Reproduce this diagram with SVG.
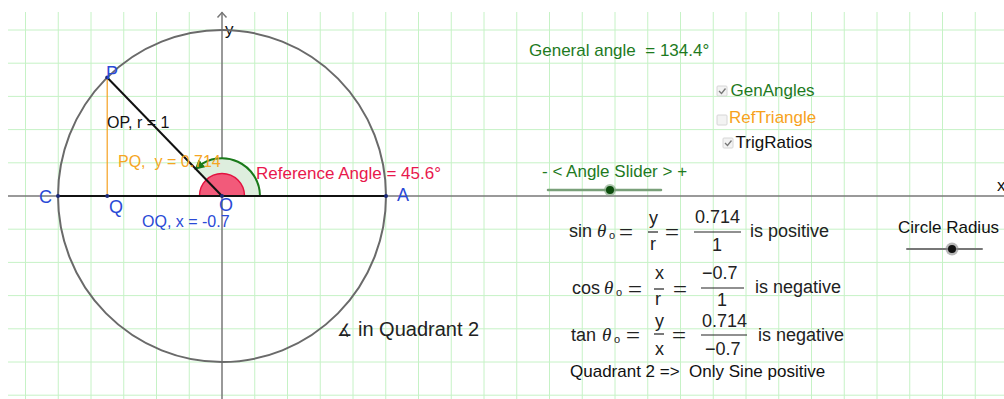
<svg xmlns="http://www.w3.org/2000/svg" width="1004" height="399" viewBox="0 0 1004 399">
<style>
text{font-family:"Liberation Sans",Arial,sans-serif;}
.grid{stroke:#c6f2c6;stroke-width:1;fill:none;}
.axis{stroke:#777;stroke-width:1.5;fill:none;}
.lbl{fill:#2a4ad6;font-size:18px;}
.math{font-size:18px;fill:#222;}
.th{font-family:"Liberation Serif",serif;font-style:italic;font-size:19px;fill:#222;}
.sub{font-size:11px;fill:#222;}
.bar{stroke:#222;stroke-width:1.2;}
.dot{fill:#1c2a7a;}
.cb{fill:#f3f3f3;stroke:#d6d6d6;stroke-width:1;}
.ck{fill:none;stroke:#777;stroke-width:1.3;}
</style>
<defs>
<marker id="garr" viewBox="0 0 10 10" refX="6" refY="5" markerWidth="5" markerHeight="5" orient="auto" markerUnits="strokeWidth">
<path d="M0,0 L10,5 L0,10 Z" fill="#1a7a1a"/>
</marker>
</defs>
<rect width="1004" height="399" fill="#fff"/>
<g id="grid">
<path class="grid" d="M25.5,12V399M58.25,12V399M91,12V399M123.75,12V399M156.5,12V399M189.25,12V399M254.75,12V399M287.5,12V399M320.25,12V399M353,12V399M385.75,12V399M418.5,12V399M451.25,12V399M484,12V399M516.75,12V399M549.5,12V399M582.25,12V399M615,12V399M647.75,12V399M680.5,12V399M713.25,12V399M746,12V399M778.75,12V399M811.5,12V399M844.25,12V399M877,12V399M909.75,12V399M942.5,12V399M975.25,12V399"/>
<path class="grid" d="M8,30H1004M8,63.2H1004M8,96.4H1004M8,129.6H1004M8,162.8H1004M8,229.2H1004M8,262.4H1004M8,295.6H1004M8,328.8H1004M8,362H1004M8,395.2H1004"/>
</g>
<g id="axes">
<path class="axis" d="M8,196H1004"/>
<path class="axis" d="M222,12V399"/>
<path class="axis" d="M217.5,17.5L222,12.5L226.5,17.5"/>
<text x="225" y="35" style="font-size:17px;fill:#111">y</text>
<text x="997" y="191" style="font-size:17px;fill:#111">x</text>
</g>
<g id="circle">
<ellipse cx="222" cy="196" rx="164" ry="166" fill="none" stroke="#6a6a6a" stroke-width="2"/>
</g>
<g id="angles">
<path d="M222,196 L260,196 A38,38 0 0 0 195.4,168.9 Z" fill="#deeede"/>
<path d="M260,196 A38,38 0 0 0 197.5,167.2" fill="none" stroke="#1a7a1a" stroke-width="2" marker-end="url(#garr)"/>
<path d="M199.5,196 A22.5,22.5 0 0 1 244.5,196 Z" fill="#f25a7a" stroke="#e2123f" stroke-width="1.5"/>
</g>
<g id="connectors">
<line x1="58" y1="196" x2="386" y2="196" stroke="#111" stroke-width="2"/>
<line x1="222" y1="196" x2="107.2" y2="77.5" stroke="#111" stroke-width="2"/>
<line x1="107.2" y1="77.5" x2="107.2" y2="196" stroke="#f5a020" stroke-width="1.2"/>
</g>
<g id="points">
<circle class="dot" cx="58" cy="196" r="2"/>
<circle class="dot" cx="107.2" cy="196" r="2"/>
<circle class="dot" cx="222" cy="196" r="2"/>
<circle class="dot" cx="386" cy="196" r="2"/>
<circle class="dot" cx="107.2" cy="77.5" r="2"/>
<text class="lbl" x="106" y="79">P</text>
<text class="lbl" x="39" y="203">C</text>
<text class="lbl" x="109" y="213">Q</text>
<text class="lbl" x="219" y="211">O</text>
<text class="lbl" x="397" y="201">A</text>
</g>
<g id="labels">
<text x="107" y="128" style="font-size:16px;fill:#111">OP, r = 1</text>
<text x="118" y="167" style="font-size:16px;fill:#f5a623;white-space:pre" xml:space="preserve">PQ,  y = 0.714</text>
<text x="142" y="227" style="font-size:16px;fill:#2a4ad6">OQ, x = -0.7</text>
<text x="256" y="179" style="font-size:17px;fill:#e8184c">Reference Angle = 45.6°</text>
<text x="337" y="336" style="font-family:'DejaVu Sans',sans-serif;font-size:17px;fill:#222">∡</text>
<text x="358" y="336" style="font-size:20px;fill:#222">in Quadrant 2</text>
</g>
<g id="general-angle">
<text x="529" y="56" style="font-size:17px;fill:#1e7a1e;white-space:pre" xml:space="preserve">General angle  = 134.4°</text>
</g>
<g id="checkboxes">
<rect class="cb" x="717" y="86" width="10" height="10" rx="1"/>
<path class="ck" d="M719,91 L721.5,93.5 L725.5,88.5"/>
<text x="730.5" y="95.5" style="font-size:17px;fill:#1e7a1e">GenAngles</text>
<rect class="cb" x="717" y="115" width="10" height="10" rx="1"/>
<text x="729" y="123" style="font-size:17px;fill:#f7a21c">RefTriangle</text>
<rect class="cb" x="723" y="138" width="10" height="10" rx="1"/>
<path class="ck" d="M725,143 L727.5,145.5 L731.5,140.5"/>
<text x="735.5" y="148" style="font-size:17px;fill:#111">TrigRatios</text>
</g>
<g id="angle-slider">
<text x="542" y="177" style="font-size:17px;fill:#1e7a1e">- &lt; Angle Slider &gt; +</text>
<line x1="548" y1="190" x2="661" y2="190" stroke="#7aa07a" stroke-width="2.5" stroke-linecap="round"/>
<circle cx="610" cy="190" r="6" fill="#7aa07a" opacity="0.6"/>
<circle cx="610" cy="190" r="4" fill="#0c4d0c"/>
</g>
<g id="radius-slider">
<text x="898" y="233" style="font-size:17px;fill:#111">Circle Radius</text>
<line x1="907" y1="249" x2="982" y2="249" stroke="#777" stroke-width="2" stroke-linecap="round"/>
<circle cx="952" cy="249" r="6.5" fill="#888" opacity="0.6"/>
<circle cx="952" cy="249" r="4" fill="#111"/>
</g>
<g id="trig-ratios">
<text class="math" x="569" y="237">sin</text>
<text class="th" x="597" y="237">θ</text>
<text class="sub" x="609" y="239">o</text>
<text class="math" x="619" y="238" textLength="14" lengthAdjust="spacingAndGlyphs">=</text>
<text class="math" x="649" y="224">y</text>
<line class="bar" x1="648" y1="232" x2="658" y2="232"/>
<text class="math" x="650" y="250">r</text>
<text class="math" x="665" y="238" textLength="14" lengthAdjust="spacingAndGlyphs">=</text>
<text class="math" x="695" y="223">0.714</text>
<line class="bar" x1="694" y1="232" x2="741" y2="232"/>
<text class="math" x="712" y="251">1</text>
<text class="math" x="750" y="237">is positive</text>

<text class="math" x="572" y="294">cos</text>
<text class="th" x="604" y="294">θ</text>
<text class="sub" x="616" y="296">o</text>
<text class="math" x="628" y="295" textLength="14" lengthAdjust="spacingAndGlyphs">=</text>
<text class="math" x="655" y="279">x</text>
<line class="bar" x1="654" y1="289" x2="664" y2="289"/>
<text class="math" x="655" y="305">r</text>
<text class="math" x="673" y="295" textLength="14" lengthAdjust="spacingAndGlyphs">=</text>
<text class="math" x="702" y="279">−0.7</text>
<line class="bar" x1="701" y1="288" x2="744" y2="288"/>
<text class="math" x="717" y="306">1</text>
<text class="math" x="755" y="293">is negative</text>

<text class="math" x="571" y="341">tan</text>
<text class="th" x="602" y="341">θ</text>
<text class="sub" x="614" y="343">o</text>
<text class="math" x="626" y="341" textLength="14" lengthAdjust="spacingAndGlyphs">=</text>
<text class="math" x="655" y="327">y</text>
<line class="bar" x1="654" y1="334" x2="664" y2="334"/>
<text class="math" x="655" y="355">x</text>
<text class="math" x="672" y="341" textLength="14" lengthAdjust="spacingAndGlyphs">=</text>
<text class="math" x="702" y="327">0.714</text>
<line class="bar" x1="701" y1="335" x2="747" y2="335"/>
<text class="math" x="705" y="355">−0.7</text>
<text class="math" x="758" y="341">is negative</text>

<text x="570" y="377" style="font-size:17px;fill:#111;white-space:pre" xml:space="preserve">Quadrant 2 =&gt;  Only Sine positive</text>
</g>
</svg>
